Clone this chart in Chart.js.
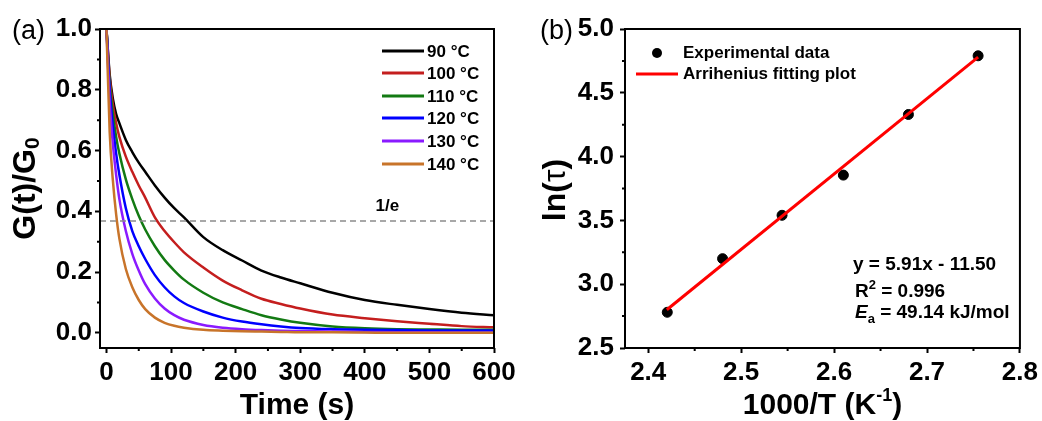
<!DOCTYPE html>
<html lang="en">
<head>
<meta charset="UTF-8">
<title>Stress relaxation and Arrhenius fit</title>
<script src="https://cdn.jsdelivr.net/npm/chart.js"></script>
<style>
    body { margin: 0; background: #fff; }
    .wrap { display: flex; width: 1042px; height: 421px; }
    .panel { position: relative; height: 421px; }
</style>
</head>
<body>
<div class="wrap">
    <div class="panel" style="width:520px"><canvas id="relax" width="520" height="421"></canvas></div>
    <div class="panel" style="width:522px"><canvas id="arrh" width="522" height="421"></canvas></div>
</div>
<script>
// ---- panel (a): normalised relaxation modulus vs time ----
const times = [0, 5, 10, 15, 20, 30, 40, 50, 60, 75, 90, 105, 120, 150, 180, 210, 240, 270, 300, 350, 400, 450, 500, 550, 600];
const g90  = [1.0, 0.85, 0.77, 0.72, 0.69, 0.635, 0.595, 0.56, 0.53, 0.485, 0.445, 0.41, 0.38, 0.315, 0.272, 0.238, 0.205, 0.182, 0.163, 0.132, 0.108, 0.092, 0.078, 0.066, 0.058];
const g100 = [1.0, 0.84, 0.75, 0.69, 0.645, 0.58, 0.53, 0.485, 0.445, 0.38, 0.335, 0.298, 0.265, 0.215, 0.172, 0.14, 0.112, 0.095, 0.08, 0.06, 0.048, 0.038, 0.03, 0.022, 0.018];
const g110 = [1.0, 0.82, 0.72, 0.645, 0.59, 0.505, 0.44, 0.385, 0.34, 0.285, 0.24, 0.205, 0.175, 0.132, 0.10, 0.078, 0.058, 0.044, 0.033, 0.021, 0.015, 0.012, 0.011, 0.01, 0.01];
const g120 = [1.0, 0.80, 0.68, 0.59, 0.52, 0.41, 0.335, 0.285, 0.243, 0.19, 0.15, 0.12, 0.098, 0.07, 0.05, 0.037, 0.028, 0.021, 0.016, 0.012, 0.01, 0.009, 0.008, 0.008, 0.008];
const g130 = [1.0, 0.76, 0.62, 0.52, 0.44, 0.335, 0.26, 0.205, 0.16, 0.113, 0.08, 0.058, 0.043, 0.026, 0.017, 0.012, 0.009, 0.007, 0.006, 0.004, 0.003, 0.002, 0.002, 0.001, 0.0];
const g140 = [1.0, 0.66, 0.50, 0.39, 0.31, 0.21, 0.15, 0.108, 0.078, 0.05, 0.033, 0.023, 0.017, 0.01, 0.007, 0.005, 0.004, 0.003, 0.002, 0.002, 0.001, 0.0, 0.0, 0.0, 0.0];
const tempLabels = ['90 °C', '100 °C', '110 °C', '120 °C', '130 °C', '140 °C'];
const tempColors = ['#000000', '#c41e1e', '#137a13', '#0000ff', '#8a1aff', '#c8742a'];
const invE = 0.368;
const timeTicks = [0, 100, 200, 300, 400, 500, 600];
const timeMinor = [50, 150, 250, 350, 450, 550];
const gTicks = [0.0, 0.2, 0.4, 0.6, 0.8, 1.0];
const gMinor = [0.1, 0.3, 0.5, 0.7, 0.9];

// ---- panel (b): ln(tau) vs 1000/T ----
const invT = [2.4205, 2.480, 2.544, 2.610, 2.680, 2.755];
const lnTau = [2.78, 3.20, 3.54, 3.855, 4.33, 4.79];
const fitX = [2.42, 2.755];
const fitY = [2.80, 4.78];
const invTTicks = [2.4, 2.5, 2.6, 2.7, 2.8];
const invTMinor = [2.45, 2.55, 2.65, 2.75];
const lnTicks = [2.5, 3.0, 3.5, 4.0, 4.5, 5.0];
const lnMinor = [2.75, 3.25, 3.75, 4.25, 4.75];

const FONT = '"Liberation Sans", Arial, sans-serif';
Chart.defaults.font.family = FONT;
Chart.defaults.color = '#000';

// draws a run of text pieces, each with its own font and vertical shift
function richText(ctx, x, y, parts, align) {
    let total = 0;
    parts.forEach(p => { ctx.font = p.font; total += ctx.measureText(p.t).width; });
    let cx = align === 'center' ? x - total / 2 : x;
    ctx.textAlign = 'left';
    ctx.textBaseline = 'alphabetic';
    parts.forEach(p => {
        ctx.font = p.font;
        ctx.fillText(p.t, cx, y + (p.dy || 0));
        cx += ctx.measureText(p.t).width;
    });
}

function frameAndMinor(xMinor, yMinor) {
    return {
        id: 'frame',
        afterDraw(chart) {
            const { ctx, chartArea: a, scales } = chart;
            ctx.save();
            ctx.strokeStyle = '#000';
            ctx.lineWidth = 2;
            ctx.strokeRect(a.left, a.top, a.right - a.left, a.bottom - a.top);
            ctx.beginPath();
            xMinor.forEach(v => {
                const px = scales.x.getPixelForValue(v);
                ctx.moveTo(px, a.bottom); ctx.lineTo(px, a.bottom + 3);
            });
            yMinor.forEach(v => {
                const py = scales.y.getPixelForValue(v);
                ctx.moveTo(a.left, py); ctx.lineTo(a.left - 3, py);
            });
            ctx.stroke();
            ctx.restore();
        }
    };
}

function axisOpts(min, max, tickVals, digits, fitSize, isX, pad) {
    return {
        type: 'linear',
        min: min,
        max: max,
        afterBuildTicks: s => { s.ticks = tickVals.map(v => ({ value: v })); },
        afterFit: s => { if (isX) s.height = fitSize; else s.width = fitSize; },
        border: { display: false },
        grid: { drawOnChartArea: false, drawTicks: true, tickLength: 5, tickWidth: 2, tickColor: '#000' },
        ticks: {
            font: { size: 26, weight: 'bold' },
            color: '#000',
            padding: pad,
            maxRotation: 0,
            autoSkip: false,
            callback: v => Number(v).toFixed(digits)
        }
    };
}

// ---------- chart (a) ----------
const series = [g90, g100, g110, g120, g130, g140];
const relaxSets = series.map((s, i) => ({
    label: tempLabels[i],
    data: times.map((t, j) => ({ x: t, y: s[j] })),
    borderColor: tempColors[i],
    borderWidth: 2.5,
    pointRadius: 0,
    cubicInterpolationMode: 'monotone',
    order: 5 - i
}));
relaxSets.push({
    label: '1/e',
    data: [{ x: -10, y: invE }, { x: 600, y: invE }],
    borderColor: '#8c8c8c',
    borderWidth: 1.5,
    borderDash: [6, 4],
    pointRadius: 0,
    order: -1
});

const relaxDecor = {
    id: 'relaxDecor',
    afterDraw(chart) {
        const { ctx, chartArea: a, scales } = chart;
        ctx.save();
        ctx.fillStyle = '#000';
        // panel letter
        ctx.font = '27px ' + FONT;
        ctx.textBaseline = 'middle';
        ctx.textAlign = 'left';
        ctx.fillText('(a)', 12, 32);
        // 1/e label
        ctx.font = 'bold 17px ' + FONT;
        ctx.textAlign = 'center';
        ctx.fillText('1/e', scales.x.getPixelForValue(435), scales.y.getPixelForValue(0.415));
        // legend
        const rows = [51, 73, 96, 118, 141, 164];
        rows.forEach((ry, i) => {
            ctx.strokeStyle = tempColors[i];
            ctx.lineWidth = 3;
            ctx.beginPath();
            ctx.moveTo(382, ry); ctx.lineTo(424, ry);
            ctx.stroke();
            ctx.font = 'bold 17px ' + FONT;
            ctx.textAlign = 'left';
            ctx.textBaseline = 'middle';
            ctx.fillText(tempLabels[i], 427, ry + 1);
        });
        // x title
        richText(ctx, (a.left + a.right) / 2, 414, [{ t: 'Time (s)', font: 'bold 30px ' + FONT }], 'center');
        // y title
        ctx.translate(35, (a.top + a.bottom) / 2);
        ctx.rotate(-Math.PI / 2);
        richText(ctx, 0, 0, [
            { t: 'G(t)/G', font: 'bold 32px ' + FONT },
            { t: '0', font: 'bold 21px ' + FONT, dy: 4 }
        ], 'center');
        ctx.restore();
    }
};

new Chart(document.getElementById('relax'), {
    type: 'line',
    data: { datasets: relaxSets },
    options: {
        responsive: false,
        animation: false,
        layout: { padding: { left: 0, top: 29, right: 26, bottom: 0 } },
        plugins: { legend: { display: false }, tooltip: { enabled: false } },
        scales: {
            x: axisOpts(-10, 600, timeTicks, 0, 73, true, 4),
            y: axisOpts(-0.05, 1.0, gTicks, 1, 100, false, 3)
        }
    },
    plugins: [frameAndMinor(timeMinor, gMinor), relaxDecor]
});

// ---------- chart (b) ----------
const arrhDecor = {
    id: 'arrhDecor',
    afterDraw(chart) {
        const { ctx, chartArea: a } = chart;
        ctx.save();
        ctx.fillStyle = '#000';
        ctx.font = '27px ' + FONT;
        ctx.textBaseline = 'middle';
        ctx.textAlign = 'left';
        ctx.fillText('(b)', 20, 32);
        // legend
        ctx.beginPath();
        ctx.arc(137, 53, 5, 0, Math.PI * 2);
        ctx.fill();
        ctx.font = 'bold 17px ' + FONT;
        ctx.fillText('Experimental data', 163, 53);
        ctx.strokeStyle = '#ff0000';
        ctx.lineWidth = 3;
        ctx.beginPath();
        ctx.moveTo(116, 74); ctx.lineTo(158, 74);
        ctx.stroke();
        ctx.fillText('Arrihenius fitting plot', 163, 74);
        // fit annotation
        const f = 'bold 19px ' + FONT;
        const fs = 'bold 13px ' + FONT;
        richText(ctx, 333, 270, [{ t: 'y = 5.91x - 11.50', font: f }], 'left');
        richText(ctx, 335, 297, [{ t: 'R', font: f }, { t: '2', font: fs, dy: -8 }, { t: ' = 0.996', font: f }], 'left');
        richText(ctx, 335, 318, [{ t: 'E', font: 'italic ' + f }, { t: 'a', font: fs, dy: 5 }, { t: ' = 49.14 kJ/mol', font: f }], 'left');
        // x title
        richText(ctx, (a.left + a.right) / 2, 414, [
            { t: '1000/T (K', font: 'bold 30px ' + FONT },
            { t: '-1', font: 'bold 18px ' + FONT, dy: -13 },
            { t: ')', font: 'bold 30px ' + FONT }
        ], 'center');
        // y title
        ctx.translate(45, 190);
        ctx.rotate(-Math.PI / 2);
        richText(ctx, 0, 0, [
            { t: 'ln(', font: 'bold 32px ' + FONT },
            { t: 'τ', font: '32px ' + FONT },
            { t: ')', font: 'bold 32px ' + FONT }
        ], 'center');
        ctx.restore();
    }
};

new Chart(document.getElementById('arrh'), {
    type: 'scatter',
    data: {
        datasets: [
            {
                label: 'Experimental data',
                data: invT.map((x, i) => ({ x: x, y: lnTau[i] })),
                backgroundColor: '#000',
                borderColor: '#000',
                pointRadius: 5,
                order: 1
            },
            {
                type: 'line',
                label: 'Arrihenius fitting plot',
                data: fitX.map((x, i) => ({ x: x, y: fitY[i] })),
                borderColor: '#ff0000',
                borderWidth: 3,
                pointRadius: 0,
                order: 0
            }
        ]
    },
    options: {
        responsive: false,
        animation: false,
        layout: { padding: { left: 0, top: 29, right: 22, bottom: 0 } },
        plugins: { legend: { display: false }, tooltip: { enabled: false } },
        scales: {
            x: axisOpts(2.375, 2.8, invTTicks, 1, 73, true, 4),
            y: axisOpts(2.5, 5.0, lnTicks, 1, 105, false, 6)
        }
    },
    plugins: [frameAndMinor(invTMinor, lnMinor), arrhDecor]
});
</script>
</body>
</html>
